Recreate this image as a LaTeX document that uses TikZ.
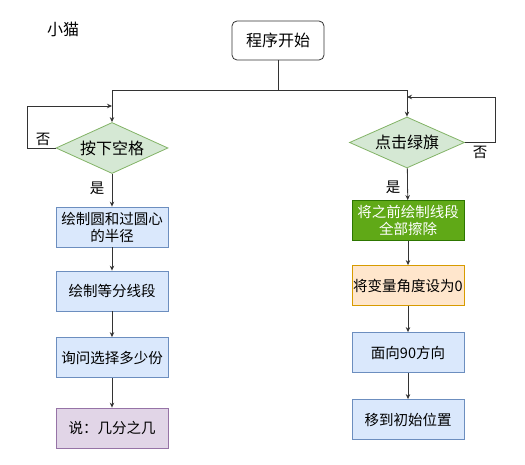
\documentclass[tikz,border=0pt]{standalone}
\usepackage{fontspec}
\setmainfont{Noto Sans CJK SC}
\usepackage{tikz}
\usetikzlibrary{shapes.geometric,arrows.meta}

\definecolor{boxblue}{HTML}{DAE8FC}
\definecolor{lineblue}{HTML}{6C8EBF}
\definecolor{boxgreen}{HTML}{D5E8D4}
\definecolor{linegreen}{HTML}{82B366}
\definecolor{darkgreen}{HTML}{60A917}
\definecolor{darkgreenline}{HTML}{2D7600}
\definecolor{boxorange}{HTML}{FFE6CC}
\definecolor{lineorange}{HTML}{D79B00}
\definecolor{boxpurple}{HTML}{E1D5E7}
\definecolor{linepurple}{HTML}{9673A6}

\begin{document}
\begin{tikzpicture}[x=1pt,y=-1pt,
  big/.style={font=\fontsize{16}{19}\selectfont},
  small/.style={font=\fontsize{14.5}{17}\selectfont},
  startbox/.style={big,draw=black!80,rounded corners=5pt,minimum width=92pt,minimum height=39pt,line width=0.8pt},
  cond/.style={big,diamond,draw=linegreen,fill=boxgreen,aspect=2.2,inner sep=0pt,minimum width=112pt,minimum height=51pt,line width=0.8pt},
  stepbox/.style={small,draw=lineblue,fill=boxblue,minimum width=112pt,minimum height=40pt,inner sep=1pt,align=center,line width=0.8pt},
  arr/.style={draw=black!80,line width=0.8pt,-{Stealth[length=5pt,width=4.5pt]}},
  ln/.style={draw=black!80,line width=0.8pt}]
\useasboundingbox (0,0) rectangle (525,465);

\node[big] (cat) at (63,29) {小猫};
\node[startbox] (s) at (278,40.5) {程序开始};

\node[cond] (dl) at (112,148) {按下空格};
\node[cond,minimum width=115pt] (dr) at (407,142.5) {点击绿旗};

\node[stepbox] (b1) at (112,227) {绘制圆和过圆心\\的半径};
\node[stepbox] (b2) at (112,291) {绘制等分线段};
\node[stepbox] (b3) at (112,357.5) {询问选择多少份};
\node[stepbox,draw=linepurple,fill=boxpurple] (b4) at (112,428) {说：几分之几};

\node[stepbox,draw=darkgreenline,fill=darkgreen,text=white] (g1) at (408,220.5) {将之前绘制线段\\全部擦除};
\node[stepbox,draw=lineorange,fill=boxorange] (g2) at (408,285.5) {将变量角度设为0};
\node[stepbox] (g3) at (408,352.5) {面向90方向};
\node[stepbox] (g4) at (408,419.5) {移到初始位置};

\node[small] (nol) at (43,139) {否};
\node[small] (nor) at (480,152) {否};
\node[small] (yesl) at (97,188) {是};
\node[small] (yesr) at (393,187) {是};

% split below the start box
\coordinate (j) at (278,90);
\coordinate (ll) at (27,106);
\coordinate (rl) at (495,97);
\draw[ln] (s.south) -- (j);
\draw[arr] (j) -| (dl.north);
\draw[arr] (j) -| (dr.north);

% loops back when the answer is no
\draw[arr] (dl.west) -| (ll) -- (ll -| dl.north);
\draw[arr] (dr.east) -| (rl) -- (rl -| dr.north);

\foreach \from/\to in {dl/b1,b1/b2,b2/b3,b3/b4,dr/g1,g1/g2,g2/g3,g3/g4}
\draw[arr] (\from) -- (\to);
\end{tikzpicture}
\end{document}
